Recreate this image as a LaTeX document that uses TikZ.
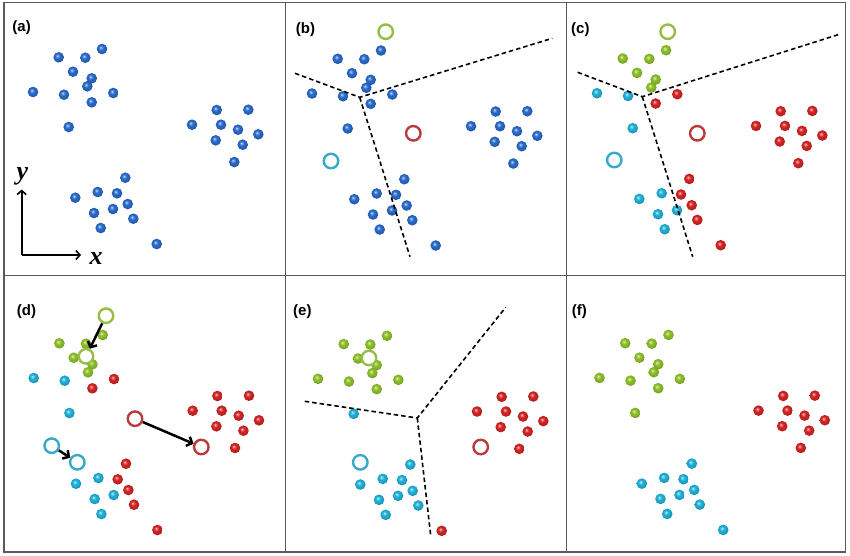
\documentclass[tikz,border=0pt]{standalone}
\usepackage{fontspec}
\setmainfont{Liberation Serif}
\newfontfamily\panelfont{Liberation Sans}
\usepackage{tikz}
\usetikzlibrary{arrows.meta}

\definecolor{dotblue}{RGB}{40,105,200}
\definecolor{dotcyan}{RGB}{30,175,215}
\definecolor{dotgreen}{RGB}{140,190,40}
\definecolor{dotred}{RGB}{210,35,35}
\definecolor{ringgreen}{RGB}{150,190,70}
\definecolor{ringred}{RGB}{185,60,60}
\definecolor{ringcyan}{RGB}{55,170,200}
\definecolor{framegray}{RGB}{90,90,90}
\colorlet{ballc}{dotblue}

% glossy bead, highlight up left
\pgfdeclareradialshading[ballc]{gloss}{\pgfpoint{-7bp}{8bp}}{%
  color(0bp)=(ballc!20!white); color(5bp)=(ballc!65!white);
  color(11bp)=(ballc); color(21bp)=(ballc!92!black);
  color(26bp)=(ballc!78!black); color(50bp)=(ballc!78!black)}

\tikzset{
  frame/.style={draw=framegray, line width=1.5pt},
  cut/.style={black, line width=1.6pt, dash pattern=on 4.5pt off 3pt},
  ring/.style={circle, draw=#1, line width=2.4pt, fill=white, minimum size=14.5pt, inner sep=0pt},
  move/.style={line width=2.5pt, -{Straight Barb[length=4.5pt,width=10pt]}},
  axis/.style={line width=1.6pt, -{Straight Barb[length=4pt,width=9pt]}},
  tag/.style={font=\panelfont\bfseries\fontsize{15}{18}\selectfont, anchor=west, inner sep=0pt},
  axlabel/.style={font=\bfseries\itshape\fontsize{26}{28}\selectfont, inner sep=0pt},
}

% data points, in the frame of panel (a)
\newcommand{\ptsG}{58.7/57.3, 85.3/57.7, 102/49, 73/71.7, 91.7/78.3, 87.3/86.3}
\newcommand{\ptsH}{33/92, 64/94.7}
\newcommand{\ptsK}{68.7/127}
\newcommand{\ptsJ}{113.3/93, 91.7/102.3}
\newcommand{\ptsR}{216.7/110, 248.3/109.7, 192/124.7, 221/124.7, 238/129.7, 258.3/134.3, 215.7/140.3, 242.7/144.7, 234.3/162}
\newcommand{\ptsM}{125.3/177.7, 117/193.3, 127.7/204, 133.3/218.7}
\newcommand{\ptsC}{97.7/192, 75.3/197.7, 94/213, 113/209, 100.7/228}
\newcommand{\ptsO}{156.7/244}

\newcommand{\balls}[2]{\colorlet{ballc}{#2}%
  \foreach \px/\py in #1 {\shade[shading=gloss] (\px,\py) circle (5.3pt);}}
% colours of the groups G,H,K,J,R,M,C,O
\newcommand{\cloud}[8]{%
  \balls{\ptsG}{#1}\balls{\ptsH}{#2}\balls{\ptsK}{#3}\balls{\ptsJ}{#4}%
  \balls{\ptsR}{#5}\balls{\ptsM}{#6}\balls{\ptsC}{#7}\balls{\ptsO}{#8}}

\begin{document}
\begin{tikzpicture}[x=1pt, y=-1pt]
    \useasboundingbox (0,0) rectangle (850,555);

    % Frame
    \draw[frame] (4,2.3) rectangle (845.5,552);
    \draw[frame] (285.5,2.3) -- (285.5,552);
    \draw[frame] (566.5,2.3) -- (566.5,552);
    \draw[frame] (4,275.5) -- (845.5,275.5);

    % (a) raw data
    \begin{scope}
        \cloud{dotblue}{dotblue}{dotblue}{dotblue}{dotblue}{dotblue}{dotblue}{dotblue}
    \end{scope}
    \node[tag] (taga) at (12.3,28) {(a)};
    \coordinate (orig) at (21.7,255);
    \coordinate (ytip) at (21.7,189.5);
    \coordinate (xtip) at (81,255);
    \draw[axis] (orig) -- (ytip);
    \draw[axis] (orig) -- (xtip);
    \node[axlabel] (ylab) at (22.3,176.7) {y};
    \node[axlabel] (xlab) at (96,258.3) {x};

    % (b) initial centroids
    \begin{scope}[shift={(279,1.5)}]
        \cloud{dotblue}{dotblue}{dotblue}{dotblue}{dotblue}{dotblue}{dotblue}{dotblue}
    \end{scope}
    \node[tag] (tagb) at (295.7,30) {(b)};
    \coordinate (bv) at (359.7,97.3);
    \coordinate (bl) at (295,73.3);
    \coordinate (bu) at (552.3,38.3);
    \coordinate (bb) at (410,256.7);
    \draw[cut] (bl) -- (bv) -- (bu);
    \draw[cut] (bv) -- (bb);
    \node[ring=ringgreen] (bg) at (385.7,31.7) {};
    \node[ring=ringred] (br) at (413.3,133.3) {};
    \node[ring=ringcyan] (bc) at (331,161) {};

    % (c) assignment
    \begin{scope}[shift={(564,1.2)}]
        \cloud{dotgreen}{dotcyan}{dotcyan}{dotred}{dotred}{dotred}{dotcyan}{dotred}
    \end{scope}
    \node[tag] (tagc) at (571,29.5) {(c)};
    \coordinate (cv) at (642.3,96.7);
    \coordinate (cl) at (577.7,72.3);
    \coordinate (cu) at (839.3,34.3);
    \coordinate (cb) at (692.7,256.7);
    \draw[cut] (cl) -- (cv) -- (cu);
    \draw[cut] (cv) -- (cb);
    \node[ring=ringgreen] (cg) at (667.7,31.7) {};
    \node[ring=ringred] (cr) at (697.3,133.3) {};
    \node[ring=ringcyan] (cc) at (614.3,160) {};

    % (d) centroid update
    \begin{scope}[shift={(0.7,286)}]
        \cloud{dotgreen}{dotcyan}{dotcyan}{dotred}{dotred}{dotred}{dotcyan}{dotred}
    \end{scope}
    \node[tag] (tagd) at (16.7,311.5) {(d)};
    \node[ring=ringgreen] (dg0) at (106,315.7) {};
    \node[ring=ringgreen] (dg1) at (86,356.3) {};
    \node[ring=ringred] (dr0) at (135,418.7) {};
    \node[ring=ringred] (dr1) at (201.3,447) {};
    \node[ring=ringcyan] (dc0) at (51.7,445.7) {};
    \node[ring=ringcyan] (dc1) at (77.3,462.3) {};
    \draw[move] (dg0) -- (dg1);
    \draw[move] (dr0) -- (dr1);
    \draw[move] (dc0) -- (dc1);

    % (e) new assignment
    \begin{scope}[shift={(285,286.8)}]
        \cloud{dotgreen}{dotgreen}{dotcyan}{dotgreen}{dotred}{dotcyan}{dotcyan}{dotred}
    \end{scope}
    \node[tag] (tage) at (293,312) {(e)};
    \coordinate (ev) at (417.3,418);
    \coordinate (el) at (304.7,401.3);
    \coordinate (eu) at (505.7,307.3);
    \coordinate (eb) at (430.7,535.7);
    \draw[cut] (el) -- (ev) -- (eu);
    \draw[cut] (ev) -- (eb);
    \node[ring=ringgreen] (eg) at (369,358) {};
    \node[ring=ringred] (er) at (480.7,447) {};
    \node[ring=ringcyan] (ec) at (360.3,462.3) {};

    % (f) final clusters
    \begin{scope}[shift={(566.5,285.9)}]
        \cloud{dotgreen}{dotgreen}{dotgreen}{dotgreen}{dotred}{dotcyan}{dotcyan}{dotcyan}
    \end{scope}
    \node[tag] (tagf) at (571.7,311.5) {(f)};
\end{tikzpicture}
\end{document}
